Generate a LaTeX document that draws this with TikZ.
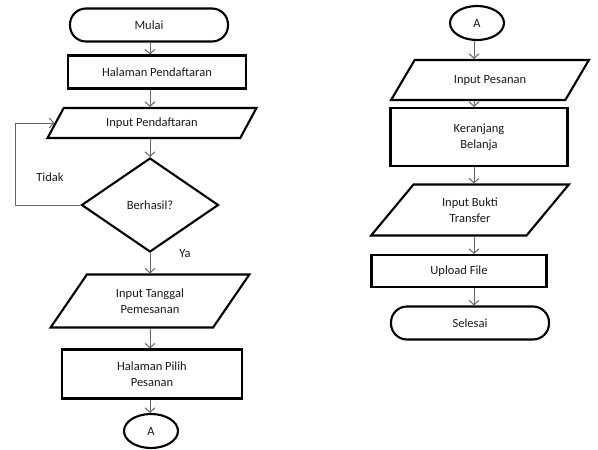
\documentclass[tikz,border=0pt]{standalone}
\usepackage{fontspec}
\setmainfont{Carlito}
\usetikzlibrary{shapes.geometric}
\usetikzlibrary{arrows.meta}

\begin{document}
\begin{tikzpicture}[x=1pt, y=-1pt,
    font=\fontsize{12.5}{16}\selectfont, text=black!90,
    terminal/.style={draw, line width=2.1pt, rounded corners=16pt, minimum width=158, minimum height=33},
    process/.style={draw, line width=2.1pt, rectangle, align=center, minimum width=178},
    datain/.style={draw, line width=2.1pt, trapezium, trapezium stretches=true, align=center, inner sep=1pt},
    decision/.style={draw, line width=2.1pt, diamond, minimum width=137, minimum height=94, inner sep=0pt},
    connector/.style={draw, line width=2.1pt, ellipse, minimum width=54, minimum height=34, inner sep=0pt},
    flow/.style={draw=black!60, line width=1pt, -{Straight Barb[length=4.5pt, width=10pt]}}]
        \useasboundingbox (0,0) rectangle (598,450);

        % column lines for the arrows
        \coordinate (colL) at (150,0);
        \coordinate (colR) at (474,0);

        % left column
        \node[terminal] (mulai) at (149,25) {Mulai};
        \node[process, minimum height=33] (halDaftar) at (157,72) {Halaman Pendaftaran};
        \node[datain, trapezium left angle=56, trapezium right angle=124, minimum width=209, minimum height=30] (inpDaftar) at (152,123) {Input Pendaftaran};
        \node[decision] (berhasil) at (150,205) {Berhasil?};
        \node[datain, trapezium left angle=53, trapezium right angle=127, minimum width=199, minimum height=53] (inpTanggal) at (150,301) {Input Tanggal\\Pemesanan};
        \node[process, minimum width=180, minimum height=49] (halPilih) at (152,374) {Halaman Pilih\\Pesanan};
        \node[connector] (aBawah) at (151,431) {A};

        % right column
        \node[connector] (aAtas) at (477,23) {A};
        \node[datain, trapezium left angle=46, trapezium right angle=134, minimum width=199, minimum height=40] (inpPesan) at (490,80) {Input Pesanan};
        \node[process, minimum width=177, minimum height=58] (keranjang) at (479,137) {Keranjang\\Belanja};
        \node[datain, trapezium left angle=51, trapezium right angle=129, minimum width=198, minimum height=51] (inpBukti) at (470,210) {Input Bukti\\Transfer};
        \node[process, minimum width=175, minimum height=32] (upload) at (459,271) {Upload File};
        \node[terminal] (selesai) at (470,323) {Selesai};

        % arrows
        \foreach \a/\b in {mulai/halDaftar, halDaftar/inpDaftar, inpDaftar/berhasil, berhasil/inpTanggal, inpTanggal/halPilih, halPilih/aBawah} {
            \draw[flow] (colL |- \a.south) -- (colL |- \b.north);
        }
        \foreach \a/\b in {aAtas/inpPesan, inpPesan/keranjang, keranjang/inpBukti, inpBukti/upload, upload/selesai} {
            \draw[flow] (colR |- \a.south) -- (colR |- \b.north);
        }

        % loop back when it fails
        \draw[flow] (berhasil.west) -- ++(-65,0) |- (inpDaftar.west);
        \node (tidak) at (50,177) {Tidak};
        \node (ya) at (185,254) {Ya};
\end{tikzpicture}
\end{document}
